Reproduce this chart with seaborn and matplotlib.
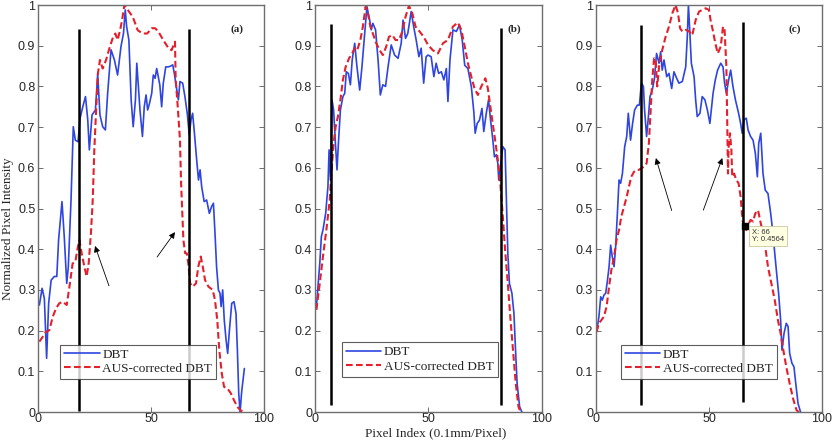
import numpy as np
import pandas as pd
import matplotlib
matplotlib.use("Agg")
import matplotlib.pyplot as plt
import seaborn as sns

# --- DATA ---
# panel (a)
a_dbt_x = [0.6, 1.8, 2.8, 3.8, 4.7, 5.8, 7.2, 8.3, 9.1, 10.6, 11.6, 12.7, 13.4, 14.6, 15.6, 16.5, 17.7, 18.6, 19.8, 21.0,
           22.0, 22.7, 23.9, 25.4, 26.4, 27.4, 28.6, 29.8, 30.8, 32.3, 33.8, 35.2, 36.7, 37.8, 38.6, 39.2, 40.2, 41.2, 42.1,
           43.1, 43.7, 44.4, 45.1, 46.2, 47.0, 47.8, 48.5, 49.3, 50.3, 51.0, 51.8, 52.5, 53.2, 53.9, 54.7, 55.4, 56.5, 57.7,
           58.7, 59.6, 60.3, 61.4, 62.1, 62.8, 64.0, 65.0, 66.1, 66.9, 67.7, 68.4, 69.2, 70.2, 71.0, 71.7, 72.4, 73.5, 74.6,
           75.8, 76.8, 77.6, 78.3, 79.0, 79.8, 80.5, 81.0, 81.7, 82.4, 83.2, 83.9, 84.7, 85.7, 86.7, 87.6, 88.2, 88.8, 89.4,
           90.1, 91.3]
a_dbt_y = [0.263, 0.304, 0.279, 0.132, 0.267, 0.324, 0.333, 0.333, 0.423, 0.517, 0.431, 0.316, 0.357, 0.521, 0.701, 0.668,
           0.664, 0.722, 0.750, 0.775, 0.718, 0.644, 0.730, 0.742, 0.830, 0.730, 0.701, 0.693, 0.783, 0.890, 0.865, 0.828,
           0.898, 0.930, 0.988, 0.947, 0.914, 0.767, 0.701, 0.767, 0.857, 0.800, 0.742, 0.677, 0.750, 0.779, 0.742, 0.758,
           0.783, 0.828, 0.820, 0.844, 0.824, 0.803, 0.750, 0.807, 0.848, 0.848, 0.850, 0.853, 0.832, 0.791, 0.767, 0.812,
           0.808, 0.775, 0.730, 0.681, 0.718, 0.734, 0.685, 0.619, 0.570, 0.595, 0.554, 0.517, 0.521, 0.488, 0.505, 0.513,
           0.439, 0.357, 0.300, 0.292, 0.259, 0.300, 0.226, 0.177, 0.144, 0.202, 0.267, 0.271, 0.242, 0.152, 0.046, 0.000,
           0.050, 0.107]
a_aus_x = [0.6, 2.1, 3.5, 5.0, 6.5, 8.0, 9.4, 10.9, 12.7, 13.9, 15.3, 16.5, 17.5, 18.3, 19.3, 20.5, 21.5, 22.4, 23.4, 24.2,
           24.9, 25.7, 26.5, 27.4, 28.6, 30.1, 31.6, 33.0, 34.2, 35.2, 36.3, 37.2, 38.2, 39.7, 41.9, 44.1, 46.3, 48.3, 50.3,
           51.8, 53.2, 55.4, 57.7, 59.1, 60.6, 60.9, 61.6, 62.8, 63.3, 63.9, 64.3, 65.1, 65.8, 66.5, 67.3, 68.4, 69.9, 70.9,
           72.0, 72.9, 73.9, 75.4, 77.3, 78.3, 79.3, 80.2, 81.3, 82.3, 83.8, 85.3, 86.7, 88.2, 89.4, 90.9]
a_aus_y = [0.173, 0.185, 0.197, 0.201, 0.234, 0.255, 0.267, 0.271, 0.263, 0.308, 0.365, 0.369, 0.402, 0.423, 0.390, 0.357,
           0.333, 0.365, 0.439, 0.521, 0.644, 0.742, 0.832, 0.865, 0.844, 0.865, 0.894, 0.918, 0.930, 0.914, 0.938, 0.963,
           1.000, 0.988, 0.971, 0.938, 0.930, 0.930, 0.943, 0.943, 0.935, 0.914, 0.894, 0.889, 0.910, 0.816, 0.767, 0.669,
           0.562, 0.480, 0.423, 0.390, 0.390, 0.365, 0.316, 0.308, 0.316, 0.357, 0.382, 0.357, 0.324, 0.308, 0.300, 0.275,
           0.226, 0.152, 0.095, 0.062, 0.058, 0.046, 0.029, 0.013, 0.005, 0.000]

# panel (b)
b_dbt_x = [0.6, 1.3, 2.1, 2.8, 3.5, 4.7, 5.7, 6.2, 6.8, 7.5, 8.2, 9.0, 9.7, 10.4, 11.2, 12.3, 13.1, 13.8, 14.7, 15.6, 16.4,
           17.5, 18.5, 19.7, 20.7, 21.9, 22.9, 24.1, 24.8, 25.5, 26.7, 27.8, 28.8, 29.9, 31.1, 32.2, 33.6, 35.1, 36.6, 38.0,
           38.8, 39.9, 40.9, 42.4, 43.5, 44.6, 45.8, 46.8, 47.9, 49.0, 49.8, 51.2, 52.4, 53.4, 54.5, 55.7, 56.8, 57.9, 58.6,
           59.5, 60.8, 62.3, 63.7, 64.9, 66.0, 67.4, 68.9, 70.0, 70.6, 71.5, 72.5, 73.6, 74.4, 75.5, 76.5, 77.4, 78.4, 79.1,
           79.9, 80.6, 81.0, 82.1, 82.8, 83.8, 84.3, 85.0, 85.7, 86.8, 87.7, 88.4, 89.1, 90.2, 91.2]
b_dbt_y = [0.255, 0.308, 0.365, 0.431, 0.447, 0.488, 0.554, 0.644, 0.570, 0.767, 0.742, 0.660, 0.595, 0.668, 0.742, 0.775,
           0.783, 0.836, 0.832, 0.804, 0.865, 0.906, 0.848, 0.791, 0.848, 0.930, 0.996, 0.963, 0.939, 0.955, 0.939, 0.865,
           0.779, 0.804, 0.800, 0.848, 0.902, 0.877, 0.869, 0.906, 0.963, 0.918, 0.930, 0.984, 0.947, 0.914, 0.873, 0.894,
           0.808, 0.873, 0.877, 0.873, 0.824, 0.857, 0.832, 0.836, 0.816, 0.844, 0.763, 0.865, 0.939, 0.935, 0.951, 0.914,
           0.852, 0.844, 0.800, 0.738, 0.685, 0.709, 0.717, 0.746, 0.689, 0.734, 0.767, 0.717, 0.668, 0.627, 0.632, 0.611,
           0.570, 0.619, 0.652, 0.644, 0.537, 0.390, 0.316, 0.292, 0.242, 0.152, 0.070, 0.013, 0.000]
b_aus_x = [0.6, 2.1, 3.5, 5.0, 6.5, 7.2, 8.2, 9.1, 10.1, 11.2, 12.3, 13.5, 15.0, 16.4, 17.5, 18.6, 20.0, 21.1, 22.3, 23.3,
           24.4, 25.5, 27.0, 28.5, 29.9, 31.4, 32.6, 34.1, 35.5, 37.0, 38.5, 39.9, 41.4, 42.9, 44.3, 46.1, 47.9, 49.8, 51.9,
           54.2, 56.4, 58.6, 60.8, 63.0, 64.5, 66.0, 67.4, 68.9, 70.3, 71.8, 73.3, 75.1, 76.2, 77.7, 79.2, 80.6, 81.8, 82.8,
           83.8, 85.0, 86.2, 87.4, 88.5, 89.7, 90.6]
b_aus_y = [0.251, 0.316, 0.382, 0.447, 0.521, 0.586, 0.660, 0.701, 0.726, 0.767, 0.816, 0.848, 0.869, 0.881, 0.894, 0.889,
           0.914, 0.947, 0.996, 0.980, 0.947, 0.930, 0.906, 0.889, 0.877, 0.898, 0.922, 0.926, 0.914, 0.914, 0.935, 0.971,
           0.998, 0.980, 0.947, 0.935, 0.922, 0.902, 0.889, 0.881, 0.906, 0.914, 0.947, 0.957, 0.939, 0.898, 0.857, 0.824,
           0.795, 0.779, 0.800, 0.820, 0.795, 0.734, 0.676, 0.619, 0.554, 0.480, 0.398, 0.316, 0.226, 0.144, 0.070, 0.013,
           0.000]

# panel (c)
c_dbt_x = [0.3, 1.3, 2.1, 2.8, 3.5, 4.3, 5.0, 5.8, 6.5, 7.2, 8.0, 8.7, 9.4, 10.2, 10.9, 11.7, 12.7, 13.6, 14.3, 15.3, 16.2,
           17.1, 18.3, 19.2, 20.1, 21.0, 21.5, 22.4, 23.2, 23.9, 24.9, 25.9, 26.8, 27.9, 28.6, 29.3, 30.1, 31.3, 32.3, 33.5,
           34.5, 35.7, 36.7, 38.2, 39.7, 40.4, 40.9, 41.4, 42.2, 43.4, 44.1, 44.8, 46.0, 47.0, 48.2, 49.3, 50.4, 51.8, 52.8,
           53.8, 55.2, 56.2, 56.9, 57.7, 58.7, 59.6, 60.6, 61.7, 63.1, 64.0, 64.7, 65.5, 66.5, 67.3, 68.4, 69.5, 70.5, 71.4,
           72.0, 72.9, 73.9, 74.9, 76.1, 77.3, 78.3, 79.1, 79.8, 80.8, 81.7, 82.3, 83.2, 84.2, 85.0, 85.7, 86.7, 87.6, 88.4,
           89.4, 90.5]
c_dbt_y = [0.197, 0.234, 0.283, 0.275, 0.287, 0.292, 0.320, 0.357, 0.410, 0.382, 0.357, 0.406, 0.480, 0.570, 0.562, 0.586,
           0.652, 0.677, 0.734, 0.668, 0.709, 0.742, 0.754, 0.754, 0.808, 0.800, 0.742, 0.677, 0.726, 0.775, 0.791, 0.820,
           0.881, 0.857, 0.885, 0.840, 0.865, 0.824, 0.832, 0.795, 0.836, 0.820, 0.808, 0.812, 0.848, 0.922, 1.000, 0.947,
           0.857, 0.824, 0.767, 0.726, 0.734, 0.775, 0.767, 0.742, 0.709, 0.783, 0.816, 0.840, 0.857, 0.848, 0.808, 0.783,
           0.816, 0.840, 0.800, 0.767, 0.734, 0.709, 0.685, 0.718, 0.722, 0.693, 0.677, 0.668, 0.636, 0.578, 0.660, 0.685,
           0.586, 0.545, 0.537, 0.488, 0.439, 0.390, 0.349, 0.292, 0.226, 0.152, 0.193, 0.218, 0.210, 0.144, 0.120, 0.111,
           0.070, 0.021, 0.000]
c_aus_x = [0.3, 1.3, 2.4, 3.5, 4.7, 5.8, 6.8, 8.0, 9.1, 10.2, 11.2, 12.4, 13.6, 14.6, 15.6, 16.8, 18.0, 19.0, 20.1, 21.2,
           22.4, 23.4, 24.2, 24.9, 25.7, 26.4, 27.1, 27.9, 29.3, 30.8, 32.3, 33.8, 35.2, 36.3, 37.2, 38.2, 39.7, 41.2, 42.6,
           44.1, 45.6, 47.1, 48.5, 50.0, 50.7, 51.8, 52.8, 53.9, 55.2, 56.2, 56.9, 57.7, 58.1, 58.4, 58.7, 59.3, 59.9, 60.3,
           61.1, 62.1, 63.1, 64.0, 64.6, 65.2, 66.0, 66.5, 67.3, 68.4, 69.5, 70.5, 71.7, 72.9, 73.9, 74.9, 76.1, 77.6, 79.1,
           80.5, 81.7, 82.9, 84.2, 85.7, 87.2, 88.7, 89.7]
c_aus_y = [0.197, 0.218, 0.226, 0.234, 0.259, 0.308, 0.349, 0.382, 0.423, 0.447, 0.480, 0.504, 0.529, 0.554, 0.578, 0.590,
           0.595, 0.595, 0.599, 0.603, 0.611, 0.660, 0.742, 0.816, 0.869, 0.865, 0.800, 0.848, 0.889, 0.922, 0.947, 0.980,
           1.000, 0.980, 0.943, 0.935, 0.939, 0.935, 0.926, 0.963, 0.984, 0.988, 0.992, 0.988, 0.963, 0.935, 0.906, 0.881,
           0.898, 0.947, 0.939, 0.848, 0.701, 0.586, 0.652, 0.685, 0.644, 0.578, 0.586, 0.570, 0.562, 0.529, 0.488, 0.455,
           0.4564, 0.447, 0.459, 0.472, 0.468, 0.488, 0.496, 0.464, 0.439, 0.406, 0.357, 0.316, 0.275, 0.226, 0.193, 0.152,
           0.111, 0.070, 0.033, 0.005, 0.000]

# boundary markers: (x, ymin, ymax)
a_bounds = [(18, 0.003, 0.94), (67, 0.003, 0.94)]
b_bounds = [(7, 0.017, 0.953), (82, 0.017, 0.943)]
c_bounds = [(20, 0.017, 0.951), (65, 0.025, 0.959)]

# arrows: (tail_x, tail_y, head_x, head_y)
a_arrows = [(31.4, 0.31, 25.2, 0.408), (52.7, 0.381, 60.6, 0.442)]
c_arrows = [(33.5, 0.495, 26.5, 0.624), (47.5, 0.496, 55.9, 0.624)]

tip_x, tip_y = 66, 0.4564

panel_tags = ["(a)", "(b)", "(c)"]
series_names = ["DBT", "AUS-corrected DBT"]

# --- STYLE ---
sns.set_style("ticks")
plt.rcParams['font.family'] = ['Liberation Sans', 'DejaVu Sans']
SERIF = ['Liberation Serif', 'DejaVu Serif']
BLUE = "#2f45e0"
RED = "#e3202b"

fig = plt.figure(figsize=(8.34, 4.4), dpi=100)
rects = [[0.0456, 0.0636, 0.271, 0.925],
         [0.3777, 0.0636, 0.272, 0.925],
         [0.7146, 0.0636, 0.271, 0.925]]

panels = [
    (a_dbt_x, a_dbt_y, a_aus_x, a_aus_y, a_bounds, a_arrows, (0.097, 0.081)),
    (b_dbt_x, b_dbt_y, b_aus_x, b_aus_y, b_bounds, [], (0.118, 0.087)),
    (c_dbt_x, c_dbt_y, c_aus_x, c_aus_y, c_bounds, c_arrows, (0.109, 0.081)),
]

for i, (dx, dy, rx, ry, bounds, arrows, leg_pos) in enumerate(panels):
    ax = fig.add_axes(rects[i])
    df = pd.concat([
        pd.DataFrame({'x': dx, 'y': dy, 'series': series_names[0]}),
        pd.DataFrame({'x': rx, 'y': ry, 'series': series_names[1]}),
    ])
    sns.lineplot(data=df, x='x', y='y', hue='series', style='series',
                 palette=[BLUE, RED], dashes=[(None, None), (3.2, 1.6)],
                 sort=False, estimator=None, ax=ax, legend=False)
    lines = ax.get_lines()
    lines[0].set_linewidth(1.2)
    lines[1].set_linewidth(1.5)

    for bx, y0, y1 in bounds:
        ax.vlines(bx, y0, y1, color='black', lw=1.8, zorder=3)

    for tx, ty, hx, hy in arrows:
        ax.annotate("", xy=(hx, hy), xytext=(tx, ty),
                    arrowprops=dict(arrowstyle='-|>', color='black', lw=0.6, mutation_scale=9,
                                    shrinkA=0, shrinkB=0))

    ax.text(88, 0.94, panel_tags[i], family=SERIF, fontweight='bold', fontsize=8,
            ha='center', va='center')

    ax.set_xlim(0, 100)
    ax.set_ylim(0, 1)
    ax.set_xticks([0, 50, 100])
    ax.set_yticks(np.arange(0, 1.01, 0.1))
    ax.set_yticklabels(["0", "0.1", "0.2", "0.3", "0.4", "0.5", "0.6", "0.7", "0.8", "0.9", "1"])
    ax.set_xlabel("")
    ax.set_ylabel("")
    ax.tick_params(direction='in', length=3.5, width=0.6, top=True, right=True,
                   labelsize=9, pad=2, color='#555555')
    ax.tick_params(axis='x', pad=1)
    for sp in ax.spines.values():
        sp.set_visible(True)
        sp.set_color('#6e6e6e')
        sp.set_linewidth(1.0)

    handles = [plt.Line2D([], [], color=BLUE, lw=1.2),
               plt.Line2D([], [], color=RED, lw=1.5, dashes=(3.2, 1.6))]
    leg = ax.legend(handles, series_names, loc='lower left', bbox_to_anchor=leg_pos,
                    borderaxespad=0, frameon=True, fancybox=False, handlelength=2.7,
                    handletextpad=0.2, labelspacing=0.15, borderpad=0.3,
                    prop={'family': SERIF, 'size': 9.5})
    leg.get_frame().set_edgecolor('#333333')
    leg.get_frame().set_linewidth(0.8)

    if i == 2:
        ax.plot([tip_x], [tip_y], marker='s', color='black', markersize=4, zorder=5)
        ax.text(69, 0.433, f"X: {tip_x}\nY: {tip_y}", fontsize=5.5, color='#333333',
                ha='left', va='center', linespacing=1.1,
                bbox=dict(boxstyle='square,pad=0.35', fc='#ffffe1', ec='#c8c8a0', lw=0.6), zorder=6)

fig.text(0.009, 0.48, "Normalized Pixel Intensity", family=SERIF, fontsize=9.5,
         rotation=90, ha='center', va='center')
fig.text(0.522, 0.016, "Pixel Index (0.1mm/Pixel)", family=SERIF, fontsize=9.5,
         ha='center', va='center')

plt.savefig("out.png", dpi=100)
